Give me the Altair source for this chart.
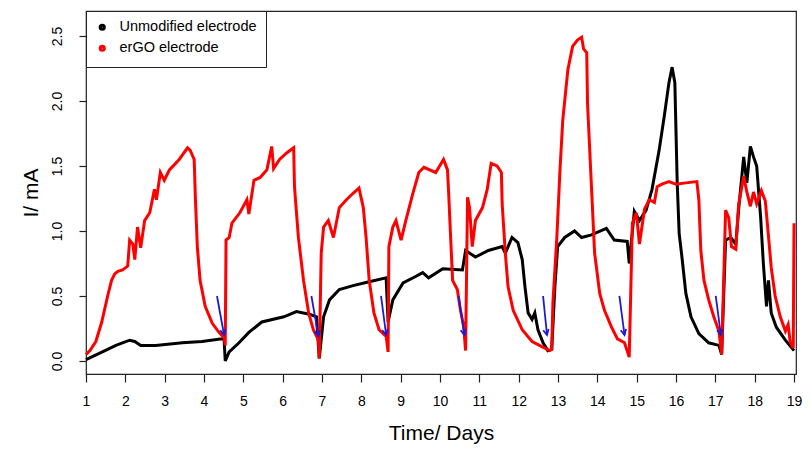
import altair as alt
import pandas as pd

# ---- data ----
series_names = ["Unmodified electrode", "erGO electrode"]
series_colors = ["black", "#ff0000"]

black_days = [1.00, 1.35, 1.76, 2.11, 2.24, 2.39, 2.77, 3.45, 3.95, 4.41, 4.51, 4.54,
              4.64, 4.89, 5.14, 5.47, 6.03, 6.35, 6.68, 6.86, 6.93, 7.04, 7.19, 7.44,
              7.79, 8.20, 8.63, 8.68, 8.80, 9.06, 9.38, 9.56, 9.71, 10.07, 10.57, 10.65,
              10.90, 11.23, 11.58, 11.66, 11.83, 11.98, 12.09, 12.16, 12.24, 12.34, 12.41,
              12.49, 12.62, 12.74, 12.84, 12.92, 12.99, 13.17, 13.42, 13.60, 13.85, 14.23,
              14.43, 14.76, 14.81, 14.94, 15.07, 15.24, 15.39, 15.57, 15.70, 15.82, 15.90,
              15.97, 16.03, 16.08, 16.15, 16.25, 16.38, 16.58, 16.83, 17.09, 17.16, 17.26,
              17.39, 17.52, 17.59, 17.72, 17.80, 17.89, 17.97, 18.05, 18.15, 18.22, 18.30,
              18.35, 18.42, 18.55, 18.78, 19.00]
black_ma = [0.01, 0.06, 0.12, 0.16, 0.15, 0.12, 0.12, 0.14, 0.15, 0.17, 0.17, 0.00,
            0.07, 0.14, 0.22, 0.30, 0.34, 0.38, 0.36, 0.34, 0.02, 0.34, 0.47, 0.55,
            0.58, 0.61, 0.64, 0.30, 0.47, 0.60, 0.65, 0.68, 0.64, 0.71, 0.70, 0.85,
            0.80, 0.85, 0.88, 0.83, 0.95, 0.91, 0.78, 0.57, 0.37, 0.32, 0.37,
            0.24, 0.14, 0.08, 0.09, 0.57, 0.88, 0.95, 1.00, 0.95, 0.97, 1.02,
            0.93, 0.92, 0.75, 1.15, 1.08, 1.16, 1.32, 1.62, 1.88, 2.14, 2.26,
            2.14, 1.37, 0.98, 0.80, 0.52, 0.34, 0.21, 0.14, 0.12, 0.05, 0.93,
            0.95, 0.90, 1.16, 1.57, 1.37, 1.65, 1.57, 1.50, 1.11, 0.75, 0.42,
            0.62, 0.37, 0.26, 0.16, 0.08]

red_days = [1.00, 1.10, 1.25, 1.40, 1.55, 1.65, 1.73, 1.81, 1.93, 2.06, 2.11, 2.19,
            2.24, 2.31, 2.39, 2.49, 2.62, 2.74, 2.79, 2.89, 2.99, 3.12, 3.37, 3.58,
            3.65, 3.75, 3.78, 3.83, 3.90, 4.03, 4.21, 4.38, 4.51, 4.54, 4.56, 4.64,
            4.71, 4.91, 5.09, 5.14, 5.27, 5.42, 5.60, 5.72, 5.77, 5.92, 6.10, 6.28,
            6.30, 6.40, 6.53, 6.66, 6.78, 6.91, 6.93, 6.98, 7.04, 7.16, 7.29, 7.44,
            7.62, 7.79, 7.94, 8.05, 8.12, 8.20, 8.32, 8.45, 8.63, 8.68, 8.70, 8.80,
            8.88, 9.01, 9.13, 9.31, 9.46, 9.59, 9.89, 10.09, 10.19, 10.22, 10.27,
            10.32, 10.44, 10.52, 10.60, 10.65, 10.70, 10.75, 10.82, 10.90, 11.08,
            11.20, 11.30, 11.45, 11.56, 11.58, 11.66, 11.73, 11.86, 12.09, 12.34,
            12.59, 12.79, 12.84, 12.87, 12.97, 13.05, 13.12, 13.25, 13.37, 13.50,
            13.60, 13.65, 13.73, 13.75, 13.85, 13.93, 14.06, 14.18, 14.36, 14.51,
            14.69, 14.81, 14.89, 14.99, 15.07, 15.20, 15.32, 15.45, 15.52, 15.64,
            15.82, 16.00, 16.25, 16.53, 16.58, 16.63, 16.71, 16.83, 16.96, 17.09,
            17.16, 17.26, 17.34, 17.41, 17.52, 17.59, 17.72, 17.80, 17.89, 17.97,
            18.05, 18.17, 18.27, 18.35, 18.42, 18.52, 18.65, 18.78, 18.85, 18.90,
            18.98, 19.00]
red_ma = [0.05, 0.08, 0.15, 0.30, 0.50, 0.62, 0.67, 0.69, 0.70, 0.73, 0.93, 0.90,
          0.78, 1.03, 0.87, 1.08, 1.14, 1.32, 1.24, 1.45, 1.39, 1.47, 1.55, 1.64,
          1.62, 1.55, 1.26, 0.88, 0.62, 0.42, 0.29, 0.22, 0.18, 0.12, 0.93, 0.95,
          1.06, 1.14, 1.24, 1.13, 1.39, 1.41, 1.47, 1.65, 1.48, 1.55, 1.60, 1.64,
          1.34, 0.95, 0.62, 0.37, 0.24, 0.16, 0.02, 0.83, 1.03, 1.08, 0.95, 1.18,
          1.24, 1.29, 1.33, 1.18, 0.95, 0.62, 0.37, 0.24, 0.19, 0.07, 0.88, 1.03,
          1.08, 0.93, 1.08, 1.29, 1.45, 1.49, 1.45, 1.55, 1.47, 1.29, 0.95,
          0.62, 0.55, 0.39, 0.27, 0.08, 1.26, 1.18, 0.88, 1.08, 1.18,
          1.32, 1.52, 1.50, 1.45, 1.21, 0.83, 0.57, 0.39, 0.24, 0.15,
          0.11, 0.08, 0.09, 0.45, 0.95, 1.47, 1.85, 2.24, 2.42, 2.47,
          2.49, 2.40, 2.37, 1.98, 1.34, 0.83, 0.52, 0.39, 0.26, 0.17,
          0.14, 0.03, 1.06, 1.14, 0.90, 1.17, 1.24, 1.22, 1.34, 1.36,
          1.38, 1.36, 1.37, 1.38, 1.24, 0.85, 0.62, 0.47, 0.34, 0.23,
          0.05, 1.16, 1.10, 0.88, 0.86, 1.20, 1.42, 1.30, 1.19, 1.30,
          1.21, 1.31, 1.23, 0.96, 0.72, 0.50, 0.34, 0.23, 0.28, 0.15,
          0.10, 1.06]

arrow_x_start = [4.33, 6.73, 8.50, 10.47, 12.62, 14.56, 17.01]
arrow_x_end = [4.51, 6.91, 8.63, 10.62, 12.72, 14.69, 17.14]
arrow_y_start = [0.50, 0.50, 0.50, 0.50, 0.50, 0.50, 0.50]
arrow_y_end = [0.20, 0.19, 0.20, 0.20, 0.20, 0.20, 0.20]

x_ticks = list(range(1, 20))
y_ticks = [0.0, 0.5, 1.0, 1.5, 2.0, 2.5]

black_df = pd.DataFrame({"day": black_days, "ma": black_ma, "series": series_names[0]})
red_df = pd.DataFrame({"day": red_days, "ma": red_ma, "series": series_names[1]})
arrow_df = pd.DataFrame({"x": arrow_x_start, "x2": arrow_x_end,
                         "y": arrow_y_start, "y2": arrow_y_end})

FONT = "Liberation Sans"

xscale = alt.Scale(domain=[1, 19.05], nice=False, zero=False)
yscale = alt.Scale(domain=[-0.1, 2.692], nice=False, zero=False)
cscale = alt.Scale(domain=series_names, range=series_colors)

xaxis = alt.Axis(title="Time/ Days", values=x_ticks, format="d",
                 tickSize=8, labelPadding=12, titlePadding=14,
                 domain=False, grid=False, labelFlush=False,
                 labelOverlap=False, labelSeparation=0)
yaxis = alt.Axis(title="I/ mA", values=y_ticks, format=".1f",
                 tickSize=7, labelAngle=270, labelAlign="center",
                 labelBaseline="bottom", labelPadding=15, titlePadding=9,
                 domain=False, grid=False, labelOverlap=False)
legend = alt.Legend(title=None, orient="top-left", offset=0, strokeColor="#222",
                    fillColor="white", padding=9, symbolType="circle",
                    symbolSize=10, symbolStrokeWidth=4, labelFontSize=14.5,
                    labelFont=FONT, rowPadding=1, labelOffset=10)

black_line = alt.Chart(black_df).mark_line(strokeWidth=3).encode(
    x=alt.X("day:Q", scale=xscale, axis=xaxis),
    y=alt.Y("ma:Q", scale=yscale, axis=yaxis),
    color=alt.Color("series:N", scale=cscale, legend=legend))
red_line = alt.Chart(red_df).mark_line(strokeWidth=3).encode(
    x=alt.X("day:Q", scale=xscale, axis=xaxis),
    y=alt.Y("ma:Q", scale=yscale, axis=yaxis),
    color=alt.Color("series:N", scale=cscale, legend=legend))

arrow_shaft = alt.Chart(arrow_df).mark_rule(color="#1c1ccf", strokeWidth=1.8).encode(
    x=alt.X("x:Q", scale=xscale, axis=xaxis), x2="x2:Q",
    y=alt.Y("y:Q", scale=yscale, axis=yaxis), y2="y2:Q")
arrow_head = alt.Chart(arrow_df).mark_point(
    shape="M-0.5,-1L0,0L0.5,-1", filled=False, color="#1c1ccf",
    strokeWidth=1.8, size=120, angle=348, opacity=1).encode(
    x=alt.X("x2:Q", scale=xscale, axis=xaxis),
    y=alt.Y("y2:Q", scale=yscale, axis=yaxis))

chart = alt.layer(black_line, red_line, arrow_shaft, arrow_head).properties(
    width=710, height=363,
    autosize=alt.AutoSizeParams(type="none"),
    padding={"left": 78, "top": 3, "right": 7, "bottom": 76},
).configure_view(stroke="#222", strokeWidth=1.2).configure_axis(
    labelFont=FONT, titleFont=FONT, labelFontSize=14, titleFontSize=21,
    titleFontWeight="normal", labelColor="black", titleColor="black",
    tickColor="#222", tickWidth=1.2, labelOverlap=False)

chart.save("out.html", embed_options={"renderer": "svg", "actions": False})
